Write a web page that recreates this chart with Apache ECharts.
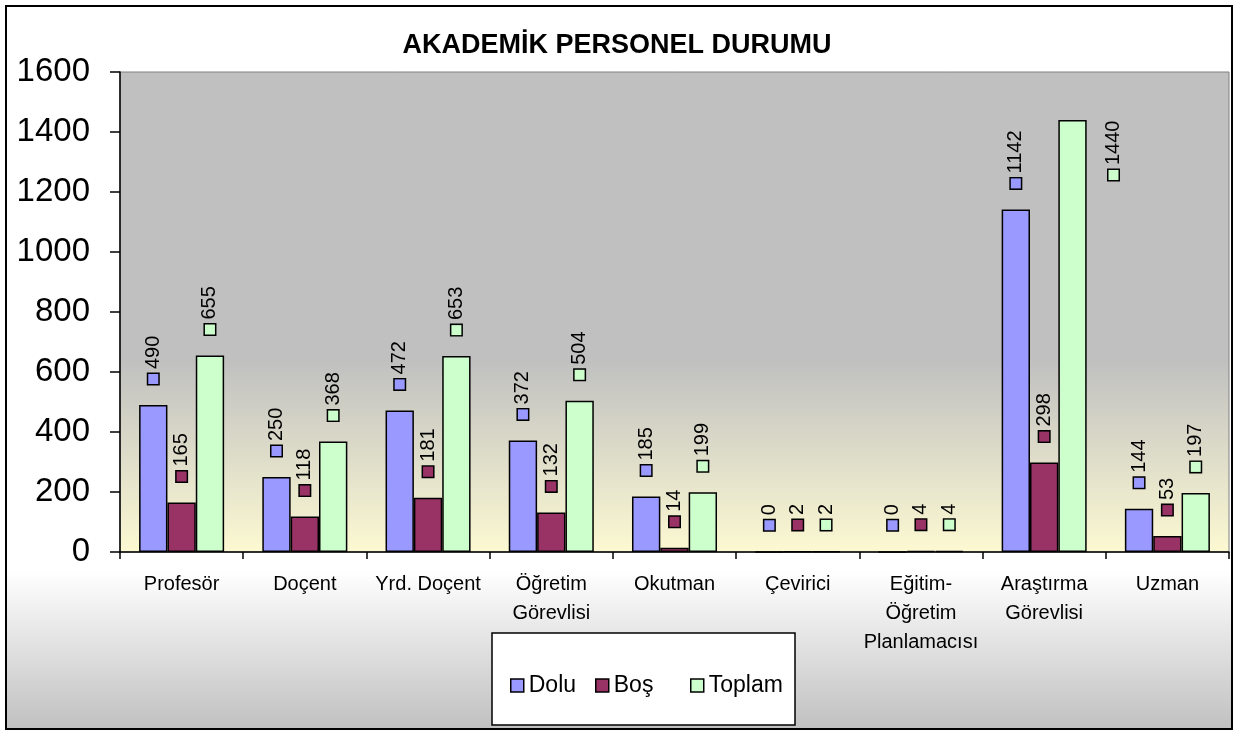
<!DOCTYPE html>
<html lang="tr">

<head>
    <meta charset="UTF-8">
    <title>Akademik Personel Durumu</title>
    <script src="https://cdn.jsdelivr.net/npm/echarts@6/dist/echarts.min.js"></script>
    <style>
        html, body { margin: 0; padding: 0; background: #fff; }
    </style>
</head>

<body>
    <div id="main" style="width: 1234px;height:733px;"></div>

    <script>
        // veriler
        var categories = ['Profesör', 'Doçent', 'Yrd. Doçent', 'Öğretim\nGörevlisi', 'Okutman',
            'Çevirici', 'Eğitim-\nÖğretim\nPlanlamacısı', 'Araştırma\nGörevlisi', 'Uzman'];
        var dolu = [490, 250, 472, 372, 185, 0, 0, 1142, 144];
        var bos = [165, 118, 181, 132, 14, 2, 4, 298, 53];
        var toplam = [655, 368, 653, 504, 199, 2, 4, 1440, 197];
        var yTicks = [0, 200, 400, 600, 800, 1000, 1200, 1400, 1600];

        var colors = ['#9999FF', '#993366', '#CCFFCC'];
        var font = 'Liberation Sans, Arial, sans-serif';

        var myChart = echarts.init(document.getElementById('main'));

        function makeLabel(color) {
            return {
                show: true,
                position: 'top',
                distance: 21,
                rotate: 90,
                align: 'left',
                verticalAlign: 'middle',
                fontSize: 20,
                fontFamily: font,
                color: '#000',
                formatter: function (p) {
                    return '{sq|}{gap|}{v|' + p.value + '}';
                },
                rich: {
                    sq: {
                        width: 10,
                        height: 10,
                        backgroundColor: color,
                        borderColor: '#000',
                        borderWidth: 1.5
                    },
                    gap: { width: 5 },
                    v: { fontSize: 20, fontFamily: font, color: '#000' }
                }
            };
        }

        function makeSeries(name, data, color) {
            return {
                name: name,
                type: 'bar',
                data: data,
                barGap: '0%',
                barCategoryGap: '31%',
                itemStyle: { color: color, borderColor: '#000', borderWidth: 1.5 },
                label: makeLabel(color),
                animation: false
            };
        }

        var toplamData = toplam.map(function (v, i) {
            // Excel'de 1440 etiketi sağa ve aşağı kaymış (ofset döndürülmüş eksende)
            if (i === 7) {
                return { value: v, label: { offset: [-81, 41] } };
            }
            return v;
        });

        function oneLegend(name, left) {
            return {
                data: [name],
                left: left,
                top: 674,
                z: 5,
                padding: 0,
                itemWidth: 13,
                itemHeight: 13,
                itemStyle: { borderColor: '#000', borderWidth: 1.5 },
                textStyle: { fontSize: 23, fontFamily: font, color: '#000' },
                icon: 'rect'
            };
        }

        var option = {
            animation: false,
            title: {
                text: 'AKADEMİK PERSONEL DURUMU',
                left: 'center',
                top: 27,
                textStyle: { fontSize: 27, fontWeight: 'bold', fontFamily: font, color: '#000' }
            },
            graphic: [{
                type: 'rect',
                z: -10,
                shape: { x: 6, y: 6, width: 1226, height: 723 },
                style: {
                    fill: {
                        type: 'linear', x: 0, y: 0, x2: 0, y2: 1,
                        colorStops: [
                            { offset: 0, color: '#ffffff' },
                            { offset: 0.78, color: '#ffffff' },
                            { offset: 1, color: '#c0c0c0' }
                        ]
                    },
                    stroke: '#000',
                    lineWidth: 2
                }
            }, {
                type: 'rect',
                z: 1,
                shape: { x: 492, y: 633, width: 303, height: 92 },
                style: { fill: '#fff', stroke: '#000', lineWidth: 1.5 }
            }],
            legend: [
                oneLegend('Dolu', 510),
                oneLegend('Boş', 595),
                oneLegend('Toplam', 690)
            ],
            grid: {
                left: 120,
                right: 5,
                top: 72,
                bottom: 181,
                show: true,
                borderColor: '#808080',
                borderWidth: 1,
                backgroundColor: {
                    type: 'linear', x: 0, y: 0, x2: 0, y2: 1,
                    colorStops: [
                        { offset: 0, color: '#c0c0c0' },
                        { offset: 0.6, color: '#c0c0c0' },
                        { offset: 1, color: '#fcf9d2' }
                    ]
                }
            },
            xAxis: {
                type: 'category',
                data: categories,
                axisLine: { lineStyle: { color: '#000', width: 1.5 } },
                axisTick: { show: true, length: 7, lineStyle: { color: '#000', width: 1.5 } },
                axisLabel: {
                    interval: 0,
                    margin: 18,
                    fontSize: 20,
                    lineHeight: 29,
                    fontFamily: font,
                    color: '#000'
                }
            },
            yAxis: {
                type: 'value',
                min: yTicks[0],
                max: yTicks[yTicks.length - 1],
                interval: yTicks[1] - yTicks[0],
                splitLine: { show: false },
                axisLine: { show: true, lineStyle: { color: '#000', width: 1.5 } },
                axisTick: { show: true, length: 10, lineStyle: { color: '#000', width: 1.5 } },
                axisLabel: {
                    fontSize: 33, fontFamily: font, color: '#000', margin: 30,
                    formatter: function (v) { return String(v); }
                }
            },
            series: [
                makeSeries('Dolu', dolu, colors[0]),
                makeSeries('Boş', bos, colors[1]),
                makeSeries('Toplam', toplamData, colors[2])
            ]
        };

        myChart.setOption(option);
    </script>
</body>

</html>
